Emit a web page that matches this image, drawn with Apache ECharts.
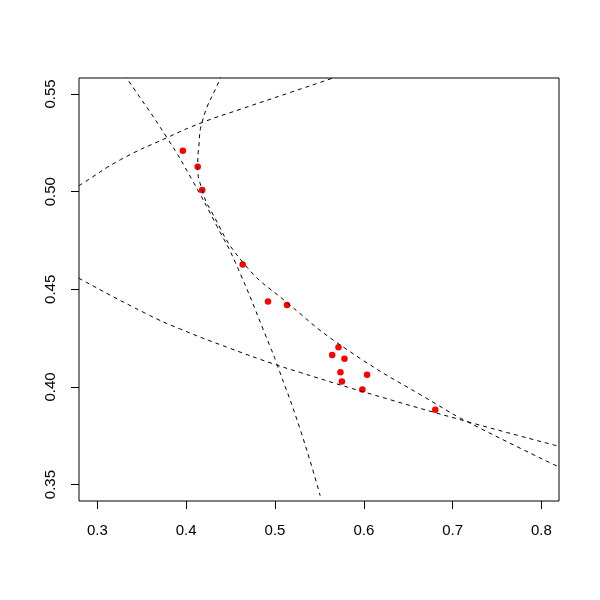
<!DOCTYPE html>
<html>
<head>
<meta charset="utf-8">
<script src="https://cdn.jsdelivr.net/npm/echarts@6/dist/echarts.min.js"></script>
<style>html,body{margin:0;padding:0;background:#fff}#c{width:600px;height:600px}</style>
</head>
<body>
<div id="c"></div>
<script>
// Tick labels
const xTicks = [0.3, 0.4, 0.5, 0.6, 0.7, 0.8];
const yTicks = [0.35, 0.40, 0.45, 0.50, 0.55];

// Red points
const pointsX = [0.3963, 0.4130, 0.4180, 0.4636, 0.4921, 0.5135, 0.5715, 0.5644, 0.5782, 0.5737, 0.5753, 0.6037, 0.5984, 0.6805];
const pointsY = [0.5209, 0.5128, 0.5009, 0.4627, 0.4438, 0.4420, 0.4203, 0.4164, 0.4145, 0.4075, 0.4028, 0.4062, 0.3987, 0.3883];

// Dashed curve A (steep one)
const curveAX = [0.3300, 0.3329, 0.3787, 0.4067, 0.4348, 0.4556, 0.4936, 0.5015, 0.5284, 0.5509];
const curveAY = [0.5600, 0.5582, 0.5274, 0.5060, 0.4822, 0.4635, 0.4217, 0.4125, 0.3782, 0.3443];

// Dashed curve B (through the points)
const curveBX = [0.4400, 0.4385, 0.4180, 0.4142, 0.4130, 0.4180, 0.4273, 0.4633, 0.5138, 0.5812, 0.6824, 0.7161, 0.8206];
const curveBY = [0.5600, 0.5582, 0.5358, 0.5231, 0.5128, 0.5009, 0.4907, 0.4641, 0.4431, 0.4191, 0.3910, 0.3823, 0.3588];

// Dashed curve C (lower)
const curveCX = [0.2790, 0.2801, 0.3551, 0.3936, 0.4498, 0.4970, 0.5285, 0.5981, 0.7161, 0.8206];
const curveCY = [0.4560, 0.4554, 0.4375, 0.4296, 0.4197, 0.4120, 0.4074, 0.3977, 0.3823, 0.3695];

// Dashed curve D (upper)
const curveDX = [0.2790, 0.2835, 0.3262, 0.3787, 0.4180, 0.4610, 0.5172, 0.5640, 0.5700];
const curveDY = [0.5030, 0.5043, 0.5164, 0.5277, 0.5354, 0.5422, 0.5508, 0.5580, 0.5590];

const zip = (a, b) => a.map((v, i) => [v, b[i]]);
const FONT = 'Liberation Sans, Arial, Helvetica, sans-serif';

const dashed = (name, xs, ys) => ({
  name, type: 'line', data: zip(xs, ys), smooth: 0.5, showSymbol: false, symbol: 'none',
  clip: true, silent: true,
  lineStyle: { color: '#000', width: 1, type: [4, 4] }
});

const chart = echarts.init(document.getElementById('c'), null, { renderer: 'canvas' });
chart.setOption({
  animation: false,
  backgroundColor: '#fff',
  grid: { left: 79, right: 41, top: 78, bottom: 99, show: true, borderColor: '#000', borderWidth: 1, backgroundColor: 'transparent' },
  xAxis: {
    type: 'value', min: 0.2793, max: 0.8198,
    axisLine: { show: false },
    splitLine: { show: false },
    axisTick: { show: true, inside: false, length: 8, customValues: xTicks, lineStyle: { color: '#000' } },
    axisLabel: { customValues: xTicks, margin: 22, fontSize: 15, color: '#000', fontFamily: FONT,
      formatter: v => v.toFixed(1) }
  },
  yAxis: {
    type: 'value', min: 0.3416, max: 0.5582,
    axisLine: { show: false },
    splitLine: { show: false },
    axisTick: { show: true, inside: false, length: 8, customValues: yTicks, lineStyle: { color: '#000' } },
    axisLabel: { customValues: yTicks, margin: 21, rotate: 90, fontSize: 15, color: '#000', fontFamily: FONT,
      formatter: v => v.toFixed(2) }
  },
  series: [
    dashed('A', curveAX, curveAY),
    dashed('B', curveBX, curveBY),
    dashed('C', curveCX, curveCY),
    dashed('D', curveDX, curveDY),
    {
      name: 'points', type: 'scatter', data: zip(pointsX, pointsY),
      symbol: 'circle', symbolSize: 6.5,
      itemStyle: { color: '#ff0000', opacity: 1 }
    }
  ]
});
</script>
</body>
</html>
